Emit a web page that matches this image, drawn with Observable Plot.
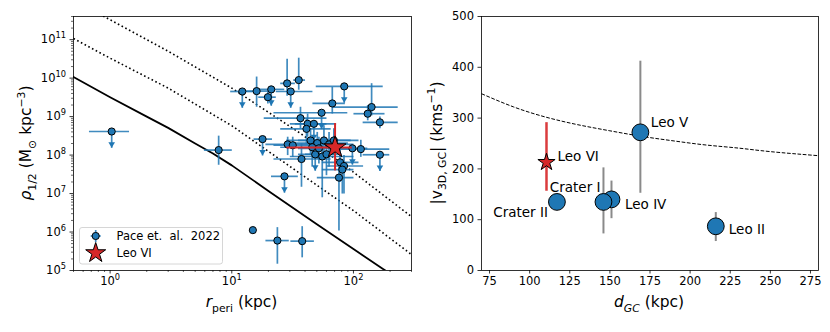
<!DOCTYPE html>
<html><head><meta charset="utf-8">
<script src="https://cdn.jsdelivr.net/npm/d3@7"></script>
<script src="https://cdn.jsdelivr.net/npm/@observablehq/plot@0.6"></script>
<style>
body{margin:0;background:#fff;}
#wrap{position:relative;width:830px;height:332px;font-family:"DejaVu Sans",sans-serif;}
#left,#right{position:absolute;top:0;}
#left{left:0;} #right{left:420px;}
</style></head><body><div id="wrap"><div id="left"></div><div id="right"></div></div>
<script>
// ---------- Left panel data (Pace et al. 2022 satellites) ----------
const rperi   = [1.03, 7.8, 12.2, 16.0, 21.1, 19.8, 28.5, 35.5, 30.5, 67, 84, 141, 131, 165, 165, 115, 98, 54.7, 36.7, 42, 41.1, 47.3, 44.4, 50.4, 57.2, 63, 69, 45.8, 48.5, 55.4, 37.4, 28.8, 31.7, 17.9, 27.1, 77.6, 83.6, 81, 76, 14.9, 23.7, 37.9, 60, 52];
const rperiLo = [0.67, 5.9, 9.7, 12.9, 16.5, 16.5, 25, 32, 23, 46, 49, 67, 100, 119, 119, 65, 70, 22, 18.3, 30, 25, 33, 28, 30, 35, 40, 45, 25, 35, 30, 22, 18.9, 22, 15.1, 21, 55, 60, 55, 50, 14.9, 18.9, 30.3, 40, 35];
const rperiHi = [1.43, 10, 16.1, 20.1, 27, 23, 33, 40, 46, 85, 174, 231, 180, 231, 197, 197, 130, 89, 60, 60, 65, 72, 75, 90, 95, 100, 110, 80, 70, 100, 65, 40, 45, 21.4, 34.9, 110, 120, 100, 100, 14.9, 29.4, 47.3, 80, 75];
const rhoHalf = [4.1e8, 1.35e8, 4.5e9, 4.6e9, 5.1e9, 3.2e9, 7.3e9, 8.9e9, 4.5e9, 2.2e9, 6.1e9, 1.77e9, 1.19e9, 7.1e8, 1.02e8, 1.43e8, 1.5e8, 1.26e9, 9.1e8, 6.5e8, 4.8e8, 6.5e8, 2.4e8, 2.05e8, 2.4e8, 1.9e8, 2.4e8, 1.6e8, 1.04e8, 9.2e7, 7.9e7, 1.9e8, 1.8e8, 2.6e8, 2.8e7, 6.5e7, 5.2e7, 4.2e7, 2.6e7, 1.12e6, 6e5, 5.8e5, 1.05e8, 1.5e8];
const rhoLo   = [null, 5.6e7, null, 1.8e9, null, 2.2e9, 3.5e9, 5e9, null, 1.2e9, null, 1.07e9, 8e8, 5e8, null, 9e7, null, null, 5e8, 3e8, 2e8, null, 1e8, 8e7, 1e8, 5e7, 1e8, 5e7, null, 8e6, 1.5e7, 1e8, 9e7, null, null, 2e7, 1e7, 1e7, 1.1e6, 1.12e6, 1.5e5, 2.2e5, 3e7, 6e7];
const rhoHi   = [null, 3.2e8, null, 1.1e10, null, 4.5e9, 3.2e10, 3.4e10, null, 5.9e9, null, 7.4e9, 2e9, 1e9, null, 2.5e8, null, null, 1.8e9, 1.2e9, 9e8, null, 5e8, 4e8, 6e8, 4e8, 5e8, 3e8, null, 2.5e8, 2e8, 3e8, 3e8, null, null, 1.5e8, 1e8, 8e7, 6e7, 1.12e6, 1.34e6, 1.42e6, 2e8, 3e8];

// Leo VI (left panel)
const leo6Rperi = 70.6, leo6RperiLo = 28.1, leo6RperiHi = 96.9;
const leo6Rho = 1.58e8, leo6RhoLo = 4e7, leo6RhoHi = 6.8e8;

// Reference curves (left panel)
const solidR     = [0.5, 1, 2, 3, 5, 7, 10, 20, 50, 100, 175, 300];
const solidRho   = [1.07e10, 3.2e9, 1.0e9, 5.1e8, 2.0e8, 1.1e8, 5.4e7, 1.17e7, 1.6e6, 3.6e5, 1.1e5, 3.5e4];
const lowerR     = [0.5, 1, 3, 10, 37, 100, 300];
const lowerRho   = [1.07e11, 3.3e10, 5.5e9, 5.8e8, 3.2e7, 3.6e6, 2.6e5];
const upperR     = [0.5, 1, 3, 10, 37, 100, 300];
const upperRho   = [1.07e12, 3.3e11, 5.0e10, 5.5e9, 3.6e8, 3.6e7, 2.5e6];

const xMajorL = [1, 10, 100];
const yMajorL = [1e5, 1e6, 1e7, 1e8, 1e9, 1e10, 1e11];

// ---------- Right panel data ----------
const satNames = ["Leo II", "Leo V", "Leo IV", "Crater I", "Crater II"];
const satD     = [216, 169, 151, 146, 117];
const satV     = [87, 272, 140, 135, 135];
const satVLo   = [58, 153, 103, 73, 128];
const satVHi   = [115, 413, 177, 203, 142];
const leo6D = 110.5, leo6V = 213, leo6VLo = 157, leo6VHi = 292;
const escD = [70, 90, 110, 130, 150, 170, 190, 210, 230, 250, 280];
const escV = [348, 322, 302, 287, 275, 264, 255, 247, 241, 234, 226];
const xTicksR = [75, 100, 125, 150, 175, 200, 225, 250, 275];
const yTicksR = [0, 100, 200, 300, 400, 500];

// label offsets (style)
const labelStyle = {
  "Leo V":    {dx: 10.5, dy: -10, anchor: "start"},
  "Leo IV":   {dx: 13.5, dy: 5,   anchor: "start"},
  "Leo II":   {dx: 13,   dy: 3,   anchor: "start"},
  "Crater I": {dx: -3,   dy: -14, anchor: "end"},
  "Crater II":{dx: -9,   dy: 10.5,anchor: "end"},
  "Leo VI":   {dx: 11,   dy: -6,  anchor: "start"}
};

// ---------- helpers ----------
const blue = "#1f77b4", red = "#d62728";
const powLabel = d => "10^" + Math.round(Math.log10(d));
const caretDown = {draw(ctx) { ctx.moveTo(0, 0); ctx.lineTo(-3.3, -5.5); ctx.lineTo(3.3, -5.5); ctx.closePath(); }};

const pace = rperi.map((r, i) => ({r, rLo: rperiLo[i], rHi: rperiHi[i], rho: rhoHalf[i], lo: rhoLo[i], hi: rhoHi[i], ul: rhoLo[i] == null}));
const paceErr = pace.filter(d => !d.ul && d.lo !== d.hi);
const paceX = pace.filter(d => d.rLo !== d.rHi);
const paceUL = pace.filter(d => d.ul).map(d => ({...d, tip: d.rho / 2.66}));
const leo6L = [{r: leo6Rperi, rLo: leo6RperiLo, rHi: leo6RperiHi, rho: leo6Rho, lo: leo6RhoLo, hi: leo6RhoHi}];

const minorX = [];
for (const e of [-1, 0, 1, 2]) for (let m = 2; m <= 9; m++) { const v = +(m * 10 ** e).toPrecision(3); if (v >= 0.5 && v <= 300) minorX.push(v); }
const minorY = [];
for (let e = 5; e <= 11; e++) for (let m = 2; m <= 9; m++) { const v = m * 10 ** e; if (v <= 4e11) minorY.push(v); }

const toRows = (xs, ys) => xs.map((x, i) => ({x, y: ys[i]}));

const styleBase = {fontFamily: "DejaVu Sans", fontSize: "11.5px", color: "black", background: "transparent"};
const dotted = {stroke: "black", strokeWidth: 1.6, strokeDasharray: "1.6,2.6", strokeLinecap: "butt", clip: true};

const left = Plot.plot({
  width: 420, height: 332, marginLeft: 73, marginRight: 9, marginTop: 16, marginBottom: 62,
  style: styleBase,
  x: {type: "log", domain: [0.5, 300]},
  y: {type: "log", domain: [1e5, 4e11]},
  marks: [
    Plot.line(toRows(solidR, solidRho), {x: "x", y: "y", stroke: "black", strokeWidth: 1.8, clip: true}),
    Plot.line(toRows(lowerR, lowerRho), {x: "x", y: "y", ...dotted}),
    Plot.line(toRows(upperR, upperRho), {x: "x", y: "y", ...dotted}),
    Plot.link(paceX, {x1: "rLo", x2: "rHi", y1: "rho", y2: "rho", stroke: blue, strokeWidth: 1.7, strokeOpacity: 0.85}),
    Plot.link(paceErr, {x1: "r", x2: "r", y1: "lo", y2: "hi", stroke: blue, strokeWidth: 1.7, strokeOpacity: 0.85}),
    Plot.link(paceUL, {x1: "r", x2: "r", y1: "rho", y2: "tip", stroke: blue, strokeWidth: 1.7, strokeOpacity: 0.85}),
    Plot.dot(paceUL, {x: "r", y: "tip", symbol: caretDown, fill: blue, stroke: "none"}),
    Plot.dot(pace, {x: "r", y: "rho", r: 3.6, fill: blue, stroke: "black", strokeWidth: 1}),
    Plot.link(leo6L, {x1: "rLo", x2: "rHi", y1: "rho", y2: "rho", stroke: red, strokeWidth: 2}),
    Plot.link(leo6L, {x1: "r", x2: "r", y1: "lo", y2: "hi", stroke: red, strokeWidth: 2}),
    Plot.dot(leo6L, {x: "r", y: "rho", symbol: "star", r: 6.9, fill: red, stroke: "black", strokeWidth: 1}),
    Plot.frame({stroke: "black", strokeWidth: 0.8}),
    Plot.axisX(xMajorL, {tickSize: 3.5, tickPadding: 3, tickFormat: powLabel, label: null, strokeWidth: 0.8}),
    Plot.axisX(minorX, {tickSize: 2, strokeWidth: 0.6, fill: "none", tickFormat: () => "", label: null}),
    Plot.axisY(yMajorL, {tickSize: 3.5, tickPadding: 4, tickFormat: powLabel, label: null, strokeWidth: 0.8}),
    Plot.axisY(minorY, {tickSize: 2, strokeWidth: 0.6, fill: "none", tickFormat: () => "", label: null})
  ]
});

const sats = satNames.map((n, i) => ({name: n, d: satD[i], v: satV[i], lo: satVLo[i], hi: satVHi[i]}));
const leo6R = [{name: "Leo VI", d: leo6D, v: leo6V, lo: leo6VLo, hi: leo6VHi}];
const labelMarks = [...sats, ...leo6R].map(s => {
  const st = labelStyle[s.name];
  return Plot.text([s], {x: "d", y: "v", text: "name", dx: st.dx, dy: st.dy, textAnchor: st.anchor, fontSize: 13.5, fill: "black"});
});

const right = Plot.plot({
  width: 410, height: 332, marginLeft: 61, marginRight: 12, marginTop: 16, marginBottom: 62,
  style: styleBase,
  x: {domain: [70, 280]},
  y: {domain: [0, 500]},
  marks: [
    Plot.line(toRows(escD, escV), {x: "x", y: "y", stroke: "black", strokeWidth: 1, strokeDasharray: "3.7,1.6", strokeLinecap: "butt", curve: "natural"}),
    Plot.link(sats, {x1: "d", x2: "d", y1: "lo", y2: "hi", stroke: "#8a8a8a", strokeWidth: 2}),
    Plot.dot(sats, {x: "d", y: "v", r: 8.4, fill: blue, stroke: "black", strokeWidth: 1}),
    Plot.link(leo6R, {x1: "d", x2: "d", y1: "lo", y2: "hi", stroke: red, strokeWidth: 2.5, strokeOpacity: 0.9}),
    Plot.dot(leo6R, {x: "d", y: "v", symbol: "star", r: 5.4, fill: red, stroke: "black", strokeWidth: 1}),
    ...labelMarks,
    Plot.frame({stroke: "black", strokeWidth: 0.8}),
    Plot.axisX(xTicksR, {tickSize: 3.5, tickPadding: 3, label: null, strokeWidth: 0.8}),
    Plot.axisY(yTicksR, {tickSize: 3.5, tickPadding: 4, label: null, strokeWidth: 0.8})
  ]
});

document.getElementById("left").appendChild(left);
document.getElementById("right").appendChild(right);

// ---------- superscript tick labels ----------
d3.select(left).selectAll("text").each(function() {
  const m = (this.textContent || "").match(/^10\^(-?\d+)$/);
  if (!m) return;
  const sel = d3.select(this);
  this.textContent = "";
  sel.append("tspan").text("10");
  sel.append("tspan").attr("dy", "-0.62em").attr("font-size", "0.72em").text(m[1]);
});

// ---------- rich-text axis labels ----------
function richText(svg, x, y, rotate, size, parts, anchor = "middle") {
  const t = d3.select(svg).append("text")
    .attr("transform", `translate(${x},${y}) rotate(${rotate})`)
    .attr("text-anchor", anchor).attr("font-size", size)
    .attr("font-family", "DejaVu Sans").attr("fill", "black");
  let cur = 0;
  for (const p of parts) {
    const shift = p.sub ? size * 0.3 : p.sup ? -size * 0.42 : 0;
    const ts = t.append("tspan").text(p.t).attr("dy", shift - cur);
    cur = shift;
    if (p.sub || p.sup) ts.attr("font-size", size * 0.7);
    if (p.it) ts.attr("font-style", "italic");
  }
  return t;
}
richText(left, 241.5, 307, 0, 15.5, [{t: "r", it: true}, {t: "peri", sub: true}, {t: " (kpc)"}]);
richText(left, 31, 143, -90, 15.5, [{t: "ρ", it: true}, {t: "1/2", sub: true}, {t: " (M"}, {t: "⊙", sub: true}, {t: " kpc"}, {t: "−3", sup: true}, {t: ")"}]);
richText(right, 229, 307, 0, 15.5, [{t: "d", it: true}, {t: "GC", sub: true, it: true}, {t: " (kpc)"}]);
richText(right, 21.5, 143, -90, 15.5, [{t: "|v"}, {t: "3D, GC", sub: true}, {t: "| (kms"}, {t: "−1", sup: true}, {t: ")"}]);

// ---------- legend (left panel) ----------
const lg = d3.select(left).append("g").attr("text-anchor", "start");
lg.append("rect").attr("x", 79.5).attr("y", 227.5).attr("width", 143).attr("height", 36.5).attr("rx", 2.5)
  .attr("fill", "white").attr("fill-opacity", 0.8).attr("stroke", "#cccccc").attr("stroke-width", 0.8);
lg.append("line").attr("x1", 90.7).attr("x2", 100.7).attr("y1", 236).attr("y2", 236).attr("stroke", blue).attr("stroke-width", 1.7).attr("stroke-opacity", 0.85);
lg.append("line").attr("x1", 95.7).attr("x2", 95.7).attr("y1", 230).attr("y2", 242).attr("stroke", blue).attr("stroke-width", 1.7).attr("stroke-opacity", 0.85);
lg.append("circle").attr("cx", 95.7).attr("cy", 236).attr("r", 3.6).attr("fill", blue).attr("stroke", "black");
lg.append("path").attr("d", d3.symbol(d3.symbolStar, 124)()).attr("transform", "translate(95.7,253)")
  .attr("fill", red).attr("stroke", "black");
lg.append("text").attr("x", 116.5).attr("y", 236).attr("dy", "0.35em").attr("text-anchor", "start").attr("font-size", 11.5).attr("font-family", "DejaVu Sans").attr("fill", "black").style("white-space", "pre").text("Pace et.  al.  2022");
lg.append("text").attr("x", 116.5).attr("y", 252.5).attr("dy", "0.35em").attr("text-anchor", "start").attr("font-size", 11.5).attr("font-family", "DejaVu Sans").attr("fill", "black").text("Leo VI");
</script></body></html>
